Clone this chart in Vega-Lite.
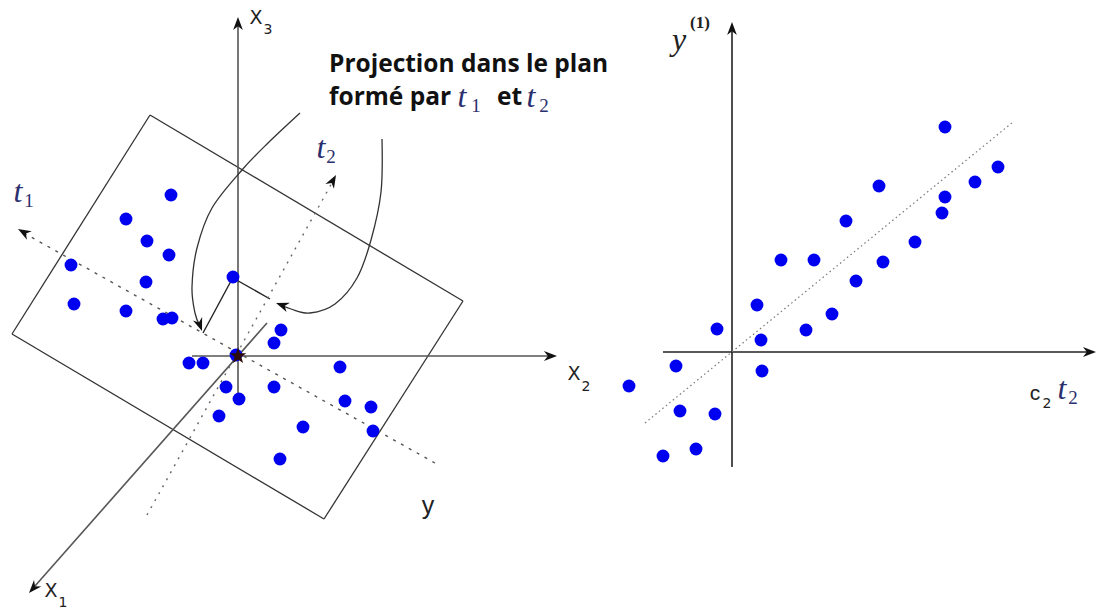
{
  "$schema": "https://vega.github.io/schema/vega-lite/v6.json",
  "width": 1097,
  "height": 612,
  "autosize": "none",
  "padding": 0,
  "background": "white",
  "config": {"view": {"stroke": null}},
  "datasets": {
    "segs": [
      {"k": "plane", "x": 150, "y": 115, "x2": 463, "y2": 301},
      {"k": "plane", "x": 463, "y": 301, "x2": 324, "y2": 519},
      {"k": "plane", "x": 324, "y": 519, "x2": 12, "y2": 334},
      {"k": "plane", "x": 12, "y": 334, "x2": 150, "y2": 115},
      {"k": "axisL", "x": 238, "y": 397, "x2": 238, "y2": 24},
      {"k": "axisL", "x": 192, "y": 356, "x2": 550, "y2": 356},
      {"k": "axisL", "x": 267, "y": 323, "x2": 35, "y2": 586},
      {"k": "proj", "x": 233, "y": 278, "x2": 270, "y2": 299},
      {"k": "proj", "x": 231, "y": 281, "x2": 203, "y2": 333},
      {"k": "axisR", "x": 732, "y": 467, "x2": 732, "y2": 28},
      {"k": "axisR", "x": 663, "y": 352, "x2": 1090, "y2": 352},
      {"k": "t1", "x": 435, "y": 463, "x2": 22, "y2": 232},
      {"k": "t2", "x": 147, "y": 515, "x2": 333, "y2": 181},
      {"k": "reg", "x": 645, "y": 423, "x2": 1013, "y2": 122}
    ],
    "curves": [
      {"id": "c1", "o": 1, "x": 300, "y": 113},
      {"id": "c1", "o": 2, "x": 268, "y": 143},
      {"id": "c1", "o": 3, "x": 242, "y": 170},
      {"id": "c1", "o": 4, "x": 212, "y": 208},
      {"id": "c1", "o": 5, "x": 197, "y": 248},
      {"id": "c1", "o": 6, "x": 192, "y": 287},
      {"id": "c1", "o": 7, "x": 195, "y": 313},
      {"id": "c1", "o": 8, "x": 200, "y": 326},
      {"id": "c2", "o": 1, "x": 382, "y": 139},
      {"id": "c2", "o": 2, "x": 381, "y": 192},
      {"id": "c2", "o": 3, "x": 371, "y": 240},
      {"id": "c2", "o": 4, "x": 357, "y": 278},
      {"id": "c2", "o": 5, "x": 335, "y": 304},
      {"id": "c2", "o": 6, "x": 310, "y": 313},
      {"id": "c2", "o": 7, "x": 291, "y": 309},
      {"id": "c2", "o": 8, "x": 279, "y": 304}
    ],
    "points": [
      {"x": 171, "y": 195}, {"x": 126, "y": 219}, {"x": 147, "y": 241},
      {"x": 169, "y": 255}, {"x": 71, "y": 265}, {"x": 146, "y": 282},
      {"x": 74, "y": 304}, {"x": 126, "y": 311}, {"x": 163, "y": 319},
      {"x": 172, "y": 318}, {"x": 233, "y": 277}, {"x": 281, "y": 330},
      {"x": 274, "y": 343}, {"x": 189, "y": 363}, {"x": 203, "y": 363},
      {"x": 236, "y": 355}, {"x": 340, "y": 367}, {"x": 226, "y": 387},
      {"x": 274, "y": 387}, {"x": 239, "y": 399}, {"x": 345, "y": 401},
      {"x": 371, "y": 407}, {"x": 219, "y": 416}, {"x": 303, "y": 427},
      {"x": 373, "y": 431}, {"x": 280, "y": 459},
      {"x": 945, "y": 127}, {"x": 998, "y": 167}, {"x": 975, "y": 182},
      {"x": 879, "y": 186}, {"x": 945, "y": 197}, {"x": 942, "y": 213},
      {"x": 846, "y": 221}, {"x": 915, "y": 242}, {"x": 781, "y": 260},
      {"x": 814, "y": 260}, {"x": 883, "y": 262}, {"x": 856, "y": 281},
      {"x": 757, "y": 305}, {"x": 832, "y": 314}, {"x": 717, "y": 329},
      {"x": 806, "y": 330}, {"x": 761, "y": 340}, {"x": 676, "y": 366},
      {"x": 762, "y": 371}, {"x": 629, "y": 386}, {"x": 680, "y": 411},
      {"x": 715, "y": 414}, {"x": 696, "y": 449}, {"x": 663, "y": 456}
    ],
    "star": [{"x": 238, "y": 356}],
    "arrows": [
      {"x": 238, "y": 17, "a": 0},
      {"x": 557, "y": 356, "a": 90},
      {"x": 29, "y": 593, "a": 221.6},
      {"x": 18, "y": 229, "a": 299.6},
      {"x": 336, "y": 175, "a": 29},
      {"x": 202, "y": 331, "a": 160},
      {"x": 276, "y": 303, "a": 290},
      {"x": 732, "y": 22, "a": 0},
      {"x": 1096, "y": 352, "a": 90}
    ],
    "labels": [
      {"r": "sans", "x": 256, "y": 18, "t": "X"},
      {"r": "sub", "x": 268, "y": 30, "t": "3"},
      {"r": "sans", "x": 574, "y": 374, "t": "X"},
      {"r": "sub", "x": 586, "y": 387, "t": "2"},
      {"r": "sans", "x": 51, "y": 591, "t": "X"},
      {"r": "sub", "x": 63, "y": 603, "t": "1"},
      {"r": "sansL", "x": 428, "y": 506, "t": "y"},
      {"r": "math", "x": 18, "y": 192, "t": "t"},
      {"r": "mathSub", "x": 29, "y": 201, "t": "1"},
      {"r": "math", "x": 321, "y": 148, "t": "t"},
      {"r": "mathSub", "x": 331, "y": 157, "t": "2"},
      {"r": "math", "x": 462, "y": 97, "t": "t"},
      {"r": "mathSub", "x": 476, "y": 106, "t": "1"},
      {"r": "math", "x": 531, "y": 97, "t": "t"},
      {"r": "mathSub", "x": 544, "y": 106, "t": "2"},
      {"r": "mathK", "x": 679, "y": 40, "t": "y"},
      {"r": "sup", "x": 700, "y": 23, "t": "(1)"},
      {"r": "sansC", "x": 1035, "y": 394, "t": "c"},
      {"r": "sub", "x": 1047, "y": 404, "t": "2"},
      {"r": "math", "x": 1062, "y": 389, "t": "t"},
      {"r": "mathSub", "x": 1073, "y": 398, "t": "2"},
      {"r": "title", "x": 329, "y": 72, "t": "Projection dans le plan"},
      {"r": "title", "x": 329, "y": 105, "t": "formé par"},
      {"r": "title", "x": 497, "y": 105, "t": "et"}
    ]
  },
  "encoding": {
    "x": {"field": "x", "type": "quantitative", "scale": {"domain": [0, 1097], "nice": false, "zero": false}, "axis": null},
    "y": {"field": "y", "type": "quantitative", "scale": {"domain": [0, 612], "nice": false, "zero": false, "reverse": true}, "axis": null}
  },
  "layer": [
    {
      "data": {"name": "segs"},
      "transform": [{"filter": "datum.k == 'plane'"}],
      "mark": {"type": "rule", "color": "#333333", "strokeWidth": 1.3},
      "encoding": {"x2": {"field": "x2"}, "y2": {"field": "y2"}}
    },
    {
      "data": {"name": "segs"},
      "transform": [{"filter": "datum.k == 'axisL'"}],
      "mark": {"type": "rule", "color": "#555555", "strokeWidth": 1.6},
      "encoding": {"x2": {"field": "x2"}, "y2": {"field": "y2"}}
    },
    {
      "data": {"name": "segs"},
      "transform": [{"filter": "datum.k == 'axisR'"}],
      "mark": {"type": "rule", "color": "#222222", "strokeWidth": 1.6},
      "encoding": {"x2": {"field": "x2"}, "y2": {"field": "y2"}}
    },
    {
      "data": {"name": "segs"},
      "transform": [{"filter": "datum.k == 'proj'"}],
      "mark": {"type": "rule", "color": "#222222", "strokeWidth": 1.4},
      "encoding": {"x2": {"field": "x2"}, "y2": {"field": "y2"}}
    },
    {
      "data": {"name": "segs"},
      "transform": [{"filter": "datum.k == 't1'"}],
      "mark": {"type": "rule", "color": "#555555", "strokeWidth": 1.4, "strokeDash": [3, 6]},
      "encoding": {"x2": {"field": "x2"}, "y2": {"field": "y2"}}
    },
    {
      "data": {"name": "segs"},
      "transform": [{"filter": "datum.k == 't2'"}],
      "mark": {"type": "rule", "color": "#666666", "strokeWidth": 1.4, "strokeDash": [2, 6]},
      "encoding": {"x2": {"field": "x2"}, "y2": {"field": "y2"}}
    },
    {
      "data": {"name": "segs"},
      "transform": [{"filter": "datum.k == 'reg'"}],
      "mark": {"type": "rule", "color": "#777777", "strokeWidth": 1.2, "strokeDash": [1.5, 3]},
      "encoding": {"x2": {"field": "x2"}, "y2": {"field": "y2"}}
    },
    {
      "data": {"name": "curves"},
      "mark": {"type": "line", "interpolate": "cardinal", "color": "#333333", "strokeWidth": 1.3},
      "encoding": {"detail": {"field": "id"}, "order": {"field": "o", "type": "quantitative"}}
    },
    {
      "data": {"name": "points"},
      "mark": {"type": "circle", "size": 165, "color": "#0000f0", "opacity": 1}
    },
    {
      "data": {"name": "star"},
      "mark": {"type": "point", "filled": true, "opacity": 1, "size": 300, "color": "#2a0a0a", "shape": "M0,-1L0.235,-0.324L0.951,-0.309L0.38,0.124L0.588,0.809L0,0.4L-0.588,0.809L-0.38,0.124L-0.951,-0.309L-0.235,-0.324Z"}
    },
    {
      "data": {"name": "arrows"},
      "mark": {"type": "point", "filled": true, "opacity": 1, "size": 170, "color": "#111111", "shape": "M0,0L0.75,2L0,1.4L-0.75,2Z"},
      "encoding": {"angle": {"field": "a", "type": "quantitative", "scale": null}}
    },
    {
      "data": {"name": "labels"},
      "transform": [{"filter": "datum.r == 'sans'"}],
      "mark": {"type": "text", "font": "DejaVu Sans", "fontSize": 19, "color": "#222222", "align": "center", "baseline": "middle"},
      "encoding": {"text": {"field": "t"}}
    },
    {
      "data": {"name": "labels"},
      "transform": [{"filter": "datum.r == 'sansL'"}],
      "mark": {"type": "text", "font": "Liberation Sans", "fontSize": 25, "color": "#222222", "align": "center", "baseline": "middle"},
      "encoding": {"text": {"field": "t"}}
    },
    {
      "data": {"name": "labels"},
      "transform": [{"filter": "datum.r == 'sansC'"}],
      "mark": {"type": "text", "font": "Liberation Sans", "fontSize": 21, "color": "#222222", "align": "center", "baseline": "middle"},
      "encoding": {"text": {"field": "t"}}
    },
    {
      "data": {"name": "labels"},
      "transform": [{"filter": "datum.r == 'sub'"}],
      "mark": {"type": "text", "font": "DejaVu Sans", "fontSize": 14, "color": "#222222", "align": "center", "baseline": "middle"},
      "encoding": {"text": {"field": "t"}}
    },
    {
      "data": {"name": "labels"},
      "transform": [{"filter": "datum.r == 'math'"}],
      "mark": {"type": "text", "font": "Liberation Serif", "fontStyle": "italic", "fontSize": 32, "color": "#2b2f6e", "align": "center", "baseline": "middle"},
      "encoding": {"text": {"field": "t"}}
    },
    {
      "data": {"name": "labels"},
      "transform": [{"filter": "datum.r == 'mathSub'"}],
      "mark": {"type": "text", "font": "Liberation Serif", "fontSize": 19, "color": "#2b2f6e", "align": "center", "baseline": "middle"},
      "encoding": {"text": {"field": "t"}}
    },
    {
      "data": {"name": "labels"},
      "transform": [{"filter": "datum.r == 'mathK'"}],
      "mark": {"type": "text", "font": "Liberation Serif", "fontStyle": "italic", "fontSize": 32, "color": "#222222", "align": "center", "baseline": "middle"},
      "encoding": {"text": {"field": "t"}}
    },
    {
      "data": {"name": "labels"},
      "transform": [{"filter": "datum.r == 'sup'"}],
      "mark": {"type": "text", "font": "Liberation Serif", "fontWeight": "bold", "fontSize": 17, "color": "#222222", "align": "center", "baseline": "middle"},
      "encoding": {"text": {"field": "t"}}
    },
    {
      "data": {"name": "labels"},
      "transform": [{"filter": "datum.r == 'title'"}],
      "mark": {"type": "text", "font": "Open Sans", "fontWeight": "bold", "fontSize": 24.5, "color": "#111111", "align": "left", "baseline": "alphabetic"},
      "encoding": {"text": {"field": "t"}}
    }
  ]
}
